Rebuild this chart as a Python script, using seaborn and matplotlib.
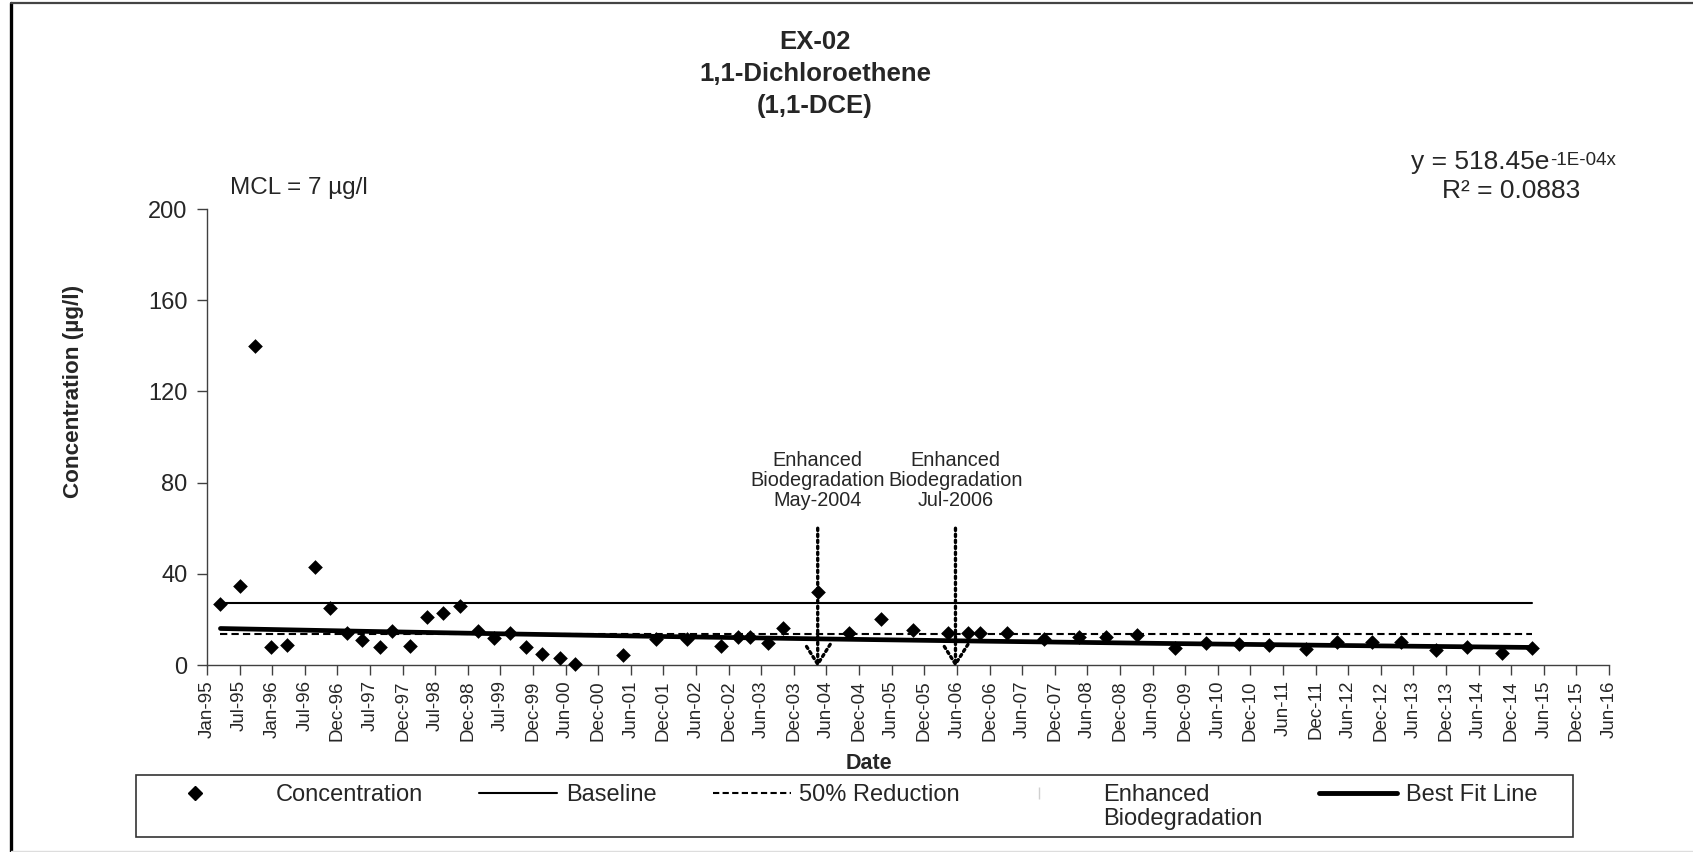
import numpy as np
import pandas as pd
import matplotlib
matplotlib.use("Agg")
import matplotlib.pyplot as plt
import matplotlib.dates as mdates
from matplotlib.lines import Line2D
from matplotlib.patches import Rectangle
from matplotlib.legend_handler import HandlerLine2DCompound
import seaborn as sns

# ---------------- data ----------------
sample_dates = [
    "1995-03-19", "1995-07-05", "1995-09-27", "1995-12-26", "1996-03-27", "1996-08-26",
    "1996-11-17", "1997-02-24", "1997-05-20", "1997-08-23", "1997-11-03", "1998-02-10",
    "1998-05-17", "1998-08-10", "1998-11-15", "1999-02-21", "1999-05-22", "1999-08-22",
    "1999-11-16", "2000-02-18", "2000-05-24", "2000-08-17", "2001-05-13", "2001-11-11",
    "2002-05-03", "2002-11-11", "2003-02-16", "2003-04-23", "2003-07-29", "2003-10-26",
    "2004-05-04", "2004-10-24", "2005-04-24", "2005-10-19", "2006-05-02", "2006-08-21",
    "2006-10-26", "2007-03-29", "2007-10-20", "2008-05-01", "2008-09-29", "2009-03-23",
    "2009-10-20", "2010-04-10", "2010-10-09", "2011-03-28", "2011-10-20", "2012-04-12",
    "2012-10-23", "2013-04-05", "2013-10-16", "2014-04-04", "2014-10-17", "2015-04-05",
]
concentration = [
    26.8, 34.8, 139.7, 7.7, 8.6, 43.0,
    24.9, 14.0, 11.0, 7.7, 15.1, 8.3,
    20.9, 22.8, 25.8, 14.9, 11.9, 14.0,
    8.0, 5.0, 3.2, 0.5, 4.2, 11.3,
    11.3, 8.2, 12.3, 12.3, 9.8, 16.1,
    32.2, 14.2, 20.0, 15.2, 14.2, 14.2,
    14.2, 14.2, 11.3, 12.4, 12.4, 13.3,
    7.6, 9.8, 9.1, 8.6, 7.2, 10.1,
    10.1, 10.1, 6.4, 8.0, 5.1, 7.3,
]
baseline_value = 27.0
reduction_value = 13.5
fit_coef = 518.45          # y = 518.45 e^(-1E-04 x), x = Excel date serial
fit_rate = -1e-4
fit_rate_label = "-1E-04x"
fit_r2 = 0.0883
event_dates = ["2004-05-04", "2006-06-12"]
event_labels = ["Enhanced\nBiodegradation\nMay-2004", "Enhanced\nBiodegradation\nJul-2006"]
event_top = 60
event_text_y = 68
tick_labels = [
    "Jan-95", "Jul-95", "Jan-96", "Jul-96", "Dec-96", "Jul-97", "Dec-97", "Jul-98",
    "Dec-98", "Jul-99", "Dec-99", "Jun-00", "Dec-00", "Jun-01", "Dec-01", "Jun-02",
    "Dec-02", "Jun-03", "Dec-03", "Jun-04", "Dec-04", "Jun-05", "Dec-05", "Jun-06",
    "Dec-06", "Jun-07", "Dec-07", "Jun-08", "Dec-08", "Jun-09", "Dec-09", "Jun-10",
    "Dec-10", "Jun-11", "Dec-11", "Jun-12", "Dec-12", "Jun-13", "Dec-13", "Jun-14",
    "Dec-14", "Jun-15", "Dec-15", "Jun-16",
]
axis_start = "1995-01-03"
tick_step_days = 182
y_ticks = [0, 40, 80, 120, 160, 200]

# ---------------- style ----------------
sns.set_theme(style="white")
plt.rcParams["font.family"] = ["Liberation Sans", "DejaVu Sans"]

W, H = 1693, 852
fig = plt.figure(figsize=(W / 100, H / 100), dpi=100)
fig.patch.set_facecolor("white")
ax = fig.add_axes([207 / W, 1 - 665 / H, 1402 / W, 456 / H])
ax.set_facecolor("white")

df = pd.DataFrame({"Date": pd.to_datetime(sample_dates), "Concentration": concentration})
first, last = df["Date"].min(), df["Date"].max()

# lines
ax.plot([first, last], [baseline_value, baseline_value], color="black", lw=1.5, zorder=3)
ax.plot([first, last], [reduction_value, reduction_value], color="black", lw=1.5,
        linestyle=(0, (3.5, 2)), zorder=3)
fit_x = pd.date_range(first, last, periods=200)
serial = mdates.date2num(fit_x.to_pydatetime()) + 25569
fit_df = pd.DataFrame({"Date": fit_x, "Fit": fit_coef * np.exp(fit_rate * serial)})
sns.lineplot(data=fit_df, x="Date", y="Fit", color="black", lw=3.4, ax=ax, zorder=4)

sns.scatterplot(data=df, x="Date", y="Concentration", marker="D", s=56, color="black",
                edgecolor="black", linewidth=0, ax=ax, zorder=5, clip_on=False)

# event arrows
for d, lab in zip(event_dates, event_labels):
    xd = mdates.date2num(pd.Timestamp(d).to_pydatetime())
    ax.annotate("", xy=(xd, -1), xytext=(xd, event_top),
                arrowprops=dict(arrowstyle="->,head_length=0.95,head_width=0.6",
                                lw=2.4, linestyle=(0, (0.7, 1.1)), color="black",
                                shrinkA=0, shrinkB=0, mutation_scale=15),
                zorder=6, annotation_clip=False)
    ax.text(xd, event_text_y, lab, ha="center", va="bottom", fontsize=14.3, linespacing=1.05)

# axes
tick_dates = pd.date_range(axis_start, periods=len(tick_labels), freq=f"{tick_step_days}D")
tick_nums = mdates.date2num(tick_dates.to_pydatetime())
ax.set_xlim(tick_nums[0], tick_nums[-1])
ax.set_xticks(tick_nums)
ax.set_xticklabels(tick_labels, rotation=90, fontsize=13.5)
ax.set_ylim(0, 200)
ax.set_yticks(y_ticks)
ax.set_yticklabels([str(v) for v in y_ticks], fontsize=17)
for s in ["top", "right"]:
    ax.spines[s].set_visible(False)
for s in ["left", "bottom"]:
    ax.spines[s].set_color("#404040")
    ax.spines[s].set_linewidth(1.0)
ax.tick_params(axis="x", direction="out", length=7, width=1, color="#404040",
               bottom=True, pad=4)
ax.tick_params(axis="y", direction="out", length=7, width=1, color="#404040",
               left=True, pad=7)
ax.grid(False)

ax.set_xlabel("Date", fontsize=15.5, fontweight="bold")
ax.xaxis.set_label_coords((869 - 207) / 1402, (665 - 753) / 456)
ax.set_ylabel("Concentration (µg/l)", fontsize=16.2, fontweight="bold")
ax.yaxis.set_label_coords((84 - 207) / 1402, (665 - 391) / 456)

# texts
ax.text(0.0164, 1.046, "MCL = 7 µg/l", transform=ax.transAxes, fontsize=17.5, va="center")
eq = ax.text((1411 - 207) / 1402, 1.103, f"y = {fit_coef}e", transform=ax.transAxes,
             fontsize=19, va="center", ha="left")
ax.annotate(fit_rate_label, xy=(1, 1), xycoords=eq, xytext=(0.5, -1.5),
            textcoords="offset points", fontsize=13.5, va="top", ha="left")
ax.text((1511 - 207) / 1402, 1.039, f"R² = {fit_r2}", transform=ax.transAxes, fontsize=19,
        va="center", ha="center")

fig.text(815 / W, 1 - 30 / H, "EX-02\n1,1-Dichloroethene\n(1,1-DCE)", ha="center",
         va="top", fontsize=18.5, fontweight="bold", linespacing=1.42)


# legend
class ShiftedMarkerHandler(HandlerLine2DCompound):
    def __init__(self, shift_frac, **kw):
        super().__init__(**kw)
        self.shift_frac = shift_frac

    def get_xdata(self, legend, xdescent, ydescent, width, height, fontsize):
        xd, xm = super().get_xdata(legend, xdescent, ydescent, width, height, fontsize)
        return xd, np.asarray(xm) - self.shift_frac * width


h_conc = Line2D([], [], marker="D", color="black", linestyle="none", markersize=7.5)
h_base = Line2D([], [], color="black", lw=1.5)
h_red = Line2D([], [], color="black", lw=1.5, linestyle=(0, (3, 1.6)))
h_enh = Line2D([], [], color="#d0d0d0", marker="|", markersize=8, linestyle="none",
               markeredgewidth=1)
h_fit = Line2D([], [], color="black", lw=3.5)
blank = Line2D([], [], linestyle="none")
handles = [h_conc, blank, h_base, blank, h_red, blank, h_enh, blank, h_fit, blank]
labels = ["Concentration", "", "Baseline", "", "50% Reduction", "", "Enhanced",
          "Biodegradation", "Best Fit Line", ""]
fig.legend(handles, labels, ncols=5, loc="upper left", bbox_to_anchor=(189 / W, 1 - 784 / H),
           frameon=False, borderpad=0, borderaxespad=0, handlelength=3.3,
           handletextpad=0.36, columnspacing=2.4, labelspacing=0.1, fontsize=17,
           handler_map={h_conc: ShiftedMarkerHandler(0.42, numpoints=1),
                        h_enh: ShiftedMarkerHandler(0.22, numpoints=1)})
fig.add_artist(Rectangle((136 / W, 1 - 837 / H), (1573 - 136) / W, 62 / H,
                         transform=fig.transFigure, fill=False, edgecolor="#333333", lw=1.2))

# outer border
fig.add_artist(Line2D([10.5 / W, 10.5 / W], [0, 1 - 3 / H], transform=fig.transFigure,
                      color="black", lw=2.4))
fig.add_artist(Line2D([10.5 / W, 1], [1 - 3 / H, 1 - 3 / H], transform=fig.transFigure,
                      color="#444444", lw=1.6))
fig.add_artist(Line2D([10.5 / W, 1], [0.6 / H, 0.6 / H], transform=fig.transFigure,
                      color="#dddddd", lw=1.0))

fig.savefig("out.png", dpi=100, facecolor="white")
